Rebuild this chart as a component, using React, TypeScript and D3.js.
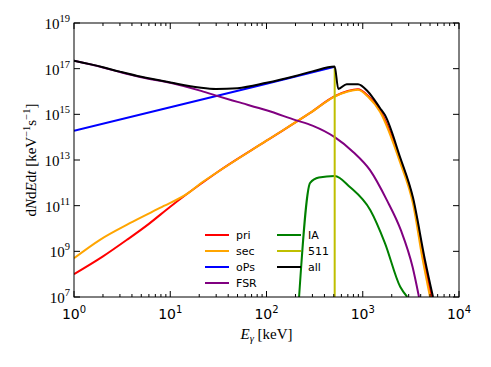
import React, { useEffect, useRef } from 'react';
import * as d3 from 'd3';

// Spectra: [energy keV, dN/dEdt]
const priData: [number, number][] = [
  [1, 1e8], [2, 6e8], [3.55, 3.2e9], [6, 1.6e10], [10, 9e10], [20, 8e11], [30, 2.7e12],
  [100, 7e13], [284, 1.15e15], [511, 6.2e15], [700, 1.05e16], [890, 1.25e16], [1135, 6.5e15],
  [1510, 1.5e15], [2440, 1.1e13], [3330, 1.7e11], [4300, 4.2e8], [5200, 1e7],
];
const secData: [number, number][] = [
  [1, 5e8], [1.86, 3.2e9], [3.8, 1.7e10], [7.8, 8e10], [16, 4e11], [20, 8.5e11], [30, 2.7e12],
  [100, 7e13], [284, 1.15e15], [511, 6e15], [700, 1e16], [890, 1.2e16], [1135, 5.9e15],
  [1510, 1.3e15], [2440, 8e12], [3330, 1.2e11], [4200, 4.2e8], [5000, 1e7],
];
const oPsData: [number, number][] = [
  [1, 1.9e14], [10, 2.05e15], [100, 2.2e16], [511, 1.2e17],
];
const fsrData: [number, number][] = [
  [1, 2.2e17], [2, 1.12e17], [3, 7.1e16], [5, 4.2e16], [10, 2.4e16], [20, 1.12e16],
  [30, 6.6e15], [50, 3.5e15], [100, 1.5e15], [200, 5.6e14], [300, 3.2e14], [511, 1e14],
  [800, 2.2e13], [1190, 3.6e12], [1774, 1.8e11], [2500, 8e9], [3300, 2e8], [3840, 1e7],
];
const iaData: [number, number][] = [
  [218, 1e7], [284, 1e12], [350, 1.7e12], [511, 2e12], [735, 6.6e11], [1200, 6.3e10],
  [1700, 2.3e9], [2450, 2.8e7], [2900, 1e7],
];
const lineData: [number, number][] = [
  [511, 1e5], [511, 1.1e17],
];
const allData: [number, number][] = [
  [1, 2.2e17], [2, 1.15e17], [3, 7.4e16], [5, 4.4e16], [10, 2.5e16], [20, 1.5e16],
  [30, 1.3e16], [50, 1.4e16], [100, 2.4e16], [200, 4.8e16], [300, 7.6e16], [511, 1.23e17],
  [557, 1.3e16], [681, 2.1e16], [893, 2.1e16], [1135, 9.8e15], [1510, 1.9e15], [1700, 9.3e14],
  [2440, 1.35e13], [3330, 2.2e11], [4430, 4.2e8], [5370, 1e7],
];

const seriesNames = ['pri', 'sec', 'oPs', 'FSR', 'IA', '511', 'all'];
const seriesColors = ['#ff0000', '#ffa500', '#0000ff', '#800080', '#008000', '#bfbf00', '#000000'];
const seriesData = [priData, secData, oPsData, fsrData, iaData, lineData, allData];

const xTickExps = [0, 1, 2, 3, 4];
const yTickExps = [7, 9, 11, 13, 15, 17, 19];

const App = () => {
  const svgRef = useRef<SVGSVGElement | null>(null);

  useEffect(() => {
    const svg = d3.select(svgRef.current);
    svg.selectAll('*').remove();

    const width = 491;
    const height = 367;
    const margin = { top: 23, right: 32, bottom: 70, left: 74 };
    const x0 = margin.left, x1 = width - margin.right;
    const y0 = height - margin.bottom, y1 = margin.top;

    svg.attr('width', width).attr('height', height);

    const x = d3.scaleLog().domain([1, 1e4]).range([x0, x1]);
    const y = d3.scaleLog().domain([1e7, 1e19]).range([y0, y1]);

    svg.append('defs').append('clipPath').attr('id', 'plot-clip')
      .append('rect')
      .attr('x', x0).attr('y', y1)
      .attr('width', x1 - x0).attr('height', y0 - y1);

    const lines = svg.append('g').attr('clip-path', 'url(#plot-clip)');

    seriesData.forEach((data, i) => {
      const line = d3.line<[number, number]>()
        .x(d => x(d[0]))
        .y(d => y(d[1]))
        .curve(seriesNames[i] === '511' || seriesNames[i] === 'oPs' ? d3.curveLinear : d3.curveMonotoneX);
      lines.append('path')
        .attr('d', line(data))
        .attr('fill', 'none')
        .attr('stroke', seriesColors[i])
        .attr('stroke-width', 2)
        .attr('stroke-linejoin', 'round');
    });

    // frame
    svg.append('rect')
      .attr('x', x0).attr('y', y1)
      .attr('width', x1 - x0).attr('height', y0 - y1)
      .attr('fill', 'none')
      .attr('stroke', '#000')
      .attr('stroke-width', 1);

    const ticks = svg.append('g').attr('stroke', '#000').attr('stroke-width', 1);

    // x ticks, major + minor, inward on bottom and top
    xTickExps.forEach(e => {
      const px = x(Math.pow(10, e));
      ticks.append('line').attr('x1', px).attr('x2', px).attr('y1', y0).attr('y2', y0 - 6);
      ticks.append('line').attr('x1', px).attr('x2', px).attr('y1', y1).attr('y2', y1 + 6);
      if (e < 4) {
        d3.range(2, 10).forEach(k => {
          const mx = x(k * Math.pow(10, e));
          ticks.append('line').attr('x1', mx).attr('x2', mx).attr('y1', y0).attr('y2', y0 - 3);
          ticks.append('line').attr('x1', mx).attr('x2', mx).attr('y1', y1).attr('y2', y1 + 3);
        });
      }
      const t = svg.append('text')
        .attr('x', px)
        .attr('y', 319)
        .attr('text-anchor', 'middle')
        .style('font-family', 'DejaVu Sans')
        .style('font-size', '14px');
      t.append('tspan').text('10');
      t.append('tspan').attr('dy', -6).style('font-size', '10px').text(String(e));
    });

    // y ticks, inward on left and right
    yTickExps.forEach(e => {
      const py = y(Math.pow(10, e));
      ticks.append('line').attr('x1', x0).attr('x2', x0 + 6).attr('y1', py).attr('y2', py);
      ticks.append('line').attr('x1', x1).attr('x2', x1 - 6).attr('y1', py).attr('y2', py);
      const t = svg.append('text')
        .attr('x', 70)
        .attr('y', py + 6)
        .attr('text-anchor', 'end')
        .style('font-family', 'Liberation Serif')
        .style('font-size', '15px');
      t.append('tspan').text('10');
      t.append('tspan').attr('dy', -7).style('font-size', '10.5px').text(String(e));
    });

    // x axis label
    const xl = svg.append('text')
      .attr('x', (x0 + x1) / 2)
      .attr('y', 339)
      .attr('text-anchor', 'middle')
      .style('font-family', 'Liberation Serif')
      .style('font-size', '15px');
    xl.append('tspan').style('font-style', 'italic').text('E');
    xl.append('tspan').attr('dy', 3).style('font-style', 'italic').style('font-size', '10.5px').text('γ');
    xl.append('tspan').attr('dy', -3).text(' [keV]');

    // y axis label
    const yl = svg.append('text')
      .attr('transform', `translate(36,${(y0 + y1) / 2}) rotate(-90)`)
      .attr('text-anchor', 'middle')
      .style('font-family', 'Liberation Serif')
      .style('font-size', '15px');
    yl.append('tspan').text('d');
    yl.append('tspan').style('font-style', 'italic').text('N');
    yl.append('tspan').text('d');
    yl.append('tspan').style('font-style', 'italic').text('E');
    yl.append('tspan').text('d');
    yl.append('tspan').style('font-style', 'italic').text('t');
    yl.append('tspan').text(' [keV');
    yl.append('tspan').attr('dy', -6).style('font-size', '10.5px').text('−1');
    yl.append('tspan').attr('dy', 6).text('s');
    yl.append('tspan').attr('dy', -6).style('font-size', '10.5px').text('−1');
    yl.append('tspan').attr('dy', 6).text(']');

    // legend, two columns
    const legend = svg.append('g')
      .style('font-family', 'DejaVu Sans')
      .style('font-size', '11px');
    seriesNames.forEach((name, i) => {
      const col = i < 4 ? 0 : 1;
      const row = i < 4 ? i : i - 4;
      const lx = col === 0 ? 205 : 277;
      const ly = 235 + row * 16;
      legend.append('line')
        .attr('x1', lx).attr('x2', lx + 24)
        .attr('y1', ly).attr('y2', ly)
        .attr('stroke', seriesColors[i])
        .attr('stroke-width', 2);
      legend.append('text')
        .attr('x', lx + 31)
        .attr('y', ly + 4)
        .text(name);
    });
  }, []);

  return (
    <svg ref={svgRef} style={{ position: 'absolute', left: 0, top: 0, display: 'block', background: '#fff' }}></svg>
  );
};

export default App;
